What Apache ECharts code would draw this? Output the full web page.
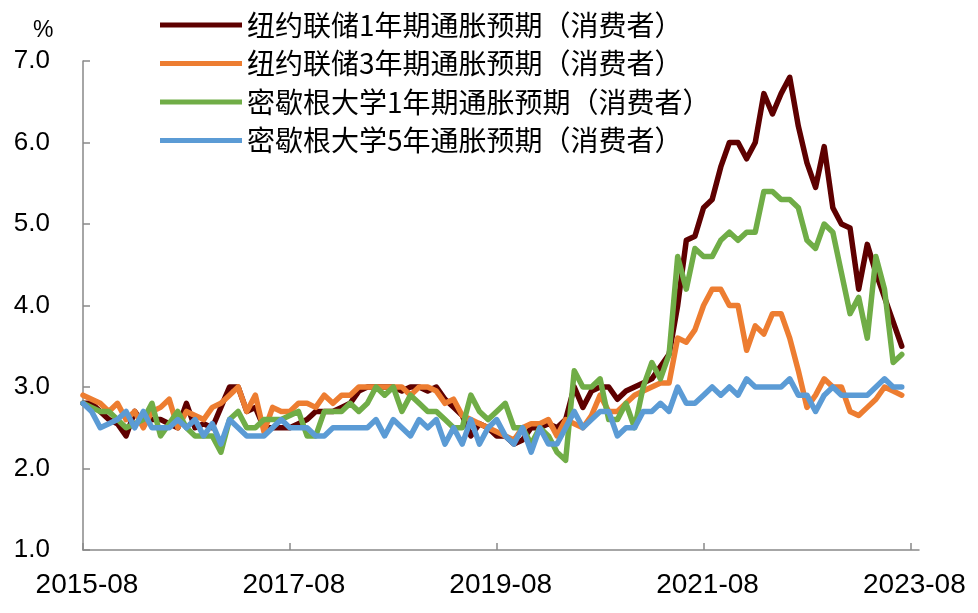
<!DOCTYPE html>
<html>
<head>
<meta charset="utf-8">
<script src="https://cdn.jsdelivr.net/npm/echarts@6/dist/echarts.min.js"></script>
<style>
html,body{margin:0;padding:0;background:#fff;}
#chart{width:978px;height:613px;}
</style>
</head>
<body>
<div id="chart"></div>
<script>
// Monthly categories 2015-08 .. 2023-09 (axis runs slightly past the last label)
const startYear = 2015, startMonth = 8, monthCount = 98;
const categories = [];
for (let k = 0; k < monthCount; k++) {
  const m = startMonth - 1 + k;
  const y = startYear + Math.floor(m / 12);
  const mm = (m % 12) + 1;
  categories.push(y + '-' + (mm < 10 ? '0' + mm : mm));
}
const xTickLabels = ['2015-08', '2017-08', '2019-08', '2021-08', '2023-08'];
const yTickValues = [1.0, 2.0, 3.0, 4.0, 5.0, 6.0, 7.0];

const seriesNames = [
  '纽约联储1年期通胀预期（消费者）',
  '纽约联储3年期通胀预期（消费者）',
  '密歇根大学1年期通胀预期（消费者）',
  '密歇根大学5年通胀预期（消费者）'
];

// 2015-08 .. 2023-07
const nyFed1y = [
  2.8, 2.8, 2.7, 2.6, 2.55, 2.4, 2.7, 2.55, 2.6, 2.6, 2.55, 2.5, 2.8, 2.5, 2.55, 2.5, 2.75,
  3.0, 3.0, 2.7, 2.75, 2.5, 2.5, 2.5, 2.5, 2.55, 2.6, 2.7, 2.7,
  2.7, 2.75, 2.8, 2.95, 3.0, 3.0, 3.0, 3.0, 2.95, 3.0, 3.0, 2.95,
  3.0, 2.85, 2.75, 2.65, 2.4, 2.55, 2.5, 2.4, 2.4, 2.3, 2.35, 2.5,
  2.5, 2.55, 2.5, 2.6, 3.0, 2.75, 2.95, 3.0, 3.0, 2.85, 2.95, 3.0,
  3.05, 3.1, 3.25, 3.4, 4.0, 4.8, 4.85, 5.2, 5.3, 5.7, 6.0, 6.0,
  5.8, 6.0, 6.6, 6.35, 6.6, 6.8, 6.2, 5.75, 5.45, 5.95, 5.2, 5.0,
  4.95, 4.2, 4.75, 4.4, 4.1, 3.8, 3.5
];
const nyFed3y = [
  2.9, 2.85, 2.8, 2.7, 2.8, 2.6, 2.7, 2.5, 2.7, 2.75, 2.85, 2.5, 2.7, 2.65, 2.6, 2.75, 2.8,
  2.9, 3.0, 2.7, 2.9, 2.45, 2.75, 2.7, 2.7, 2.8, 2.8, 2.75, 2.9,
  2.8, 2.9, 2.9, 3.0, 3.0, 3.0, 3.0, 3.0, 3.0, 2.9, 3.0, 3.0,
  2.95, 2.8, 2.85, 2.65, 2.6, 2.55, 2.5, 2.45, 2.4, 2.35, 2.5, 2.55,
  2.55, 2.6, 2.4, 2.6, 2.55, 2.5, 2.65, 2.9, 2.7, 2.7, 2.8, 2.9,
  2.95, 3.0, 3.05, 3.05, 3.6, 3.55, 3.7, 4.0, 4.2, 4.2, 4.0, 4.0,
  3.45, 3.75, 3.65, 3.9, 3.9, 3.6, 3.2, 2.75, 2.9, 3.1, 3.0, 3.0,
  2.7, 2.65, 2.75, 2.85, 3.0, 2.95, 2.9
];
const mich1y = [
  2.8, 2.75, 2.7, 2.7, 2.6, 2.5, 2.55, 2.6, 2.8, 2.4, 2.55, 2.7, 2.5, 2.4, 2.4, 2.4, 2.2,
  2.6, 2.7, 2.5, 2.5, 2.6, 2.6, 2.6, 2.65, 2.7, 2.4, 2.4, 2.7,
  2.7, 2.7, 2.8, 2.7, 2.8, 3.0, 2.9, 3.0, 2.7, 2.9, 2.8, 2.7,
  2.7, 2.6, 2.5, 2.5, 2.9, 2.7, 2.6, 2.7, 2.8, 2.5, 2.5, 2.3,
  2.5, 2.4, 2.2, 2.1, 3.2, 3.0, 3.0, 3.1, 2.6, 2.6, 2.8, 2.5,
  3.0, 3.3, 3.1, 3.4, 4.6, 4.2, 4.7, 4.6, 4.6, 4.8, 4.9, 4.8,
  4.9, 4.9, 5.4, 5.4, 5.3, 5.3, 5.2, 4.8, 4.7, 5.0, 4.9, 4.4,
  3.9, 4.1, 3.6, 4.6, 4.2, 3.3, 3.4
];
const mich5y = [
  2.8, 2.7, 2.5, 2.55, 2.6, 2.7, 2.5, 2.7, 2.5, 2.5, 2.5, 2.6, 2.5, 2.6, 2.4, 2.55, 2.3,
  2.6, 2.5, 2.4, 2.4, 2.4, 2.5, 2.6, 2.5, 2.5, 2.5, 2.4, 2.4,
  2.5, 2.5, 2.5, 2.5, 2.5, 2.6, 2.4, 2.6, 2.5, 2.4, 2.6, 2.5,
  2.6, 2.3, 2.5, 2.3, 2.6, 2.3, 2.5, 2.6, 2.4, 2.3, 2.5, 2.2,
  2.5, 2.3, 2.3, 2.5, 2.7, 2.5, 2.6, 2.7, 2.7, 2.4, 2.5, 2.5,
  2.7, 2.7, 2.8, 2.7, 3.0, 2.8, 2.8, 2.9, 3.0, 2.9, 3.0, 2.9,
  3.1, 3.0, 3.0, 3.0, 3.0, 3.1, 2.9, 2.9, 2.7, 2.9, 3.0, 2.9,
  2.9, 2.9, 2.9, 3.0, 3.1, 3.0, 3.0
];

const seriesData = [nyFed1y, nyFed3y, mich1y, mich5y];
const seriesColors = ['#5E0000', '#ED7D31', '#70AD47', '#5B9BD5'];

const axisGray = '#898989';
const numFont = 'Liberation Sans, Arial, sans-serif';
const cjkFont = 'Noto Sans CJK SC, sans-serif';

const isLabelled = (idx) => xTickLabels.indexOf(categories[idx]) >= 0;

const chart = echarts.init(document.getElementById('chart'), null, { renderer: 'canvas' });
chart.setOption({
  animation: false,
  backgroundColor: '#ffffff',
  grid: { left: 83, right: 59, top: 61, bottom: 63, containLabel: false },
  legend: {
    orient: 'vertical',
    left: 155,
    top: 6,
    itemWidth: 82,
    itemHeight: 5,
    itemGap: 10.5,
    icon: 'rect',
    textStyle: { fontFamily: cjkFont, fontSize: 28, color: '#000', lineHeight: 28, padding: [0, 0, 0, 0] },
    data: seriesNames
  },
  graphic: [{
    type: 'text', left: 33, top: 19,
    style: { text: '%', font: '23px Liberation Sans, Arial, sans-serif', fill: '#000' }
  }],
  xAxis: {
    type: 'category',
    boundaryGap: false,
    data: categories,
    axisLine: { show: true, lineStyle: { color: axisGray, width: 1.5 } },
    axisTick: { show: true, inside: true, length: 7, interval: (i) => isLabelled(i), lineStyle: { color: axisGray, width: 1.5 } },
    axisLabel: {
      interval: (i) => isLabelled(i),
      fontFamily: numFont, fontSize: 28, color: '#000', margin: 21,
      padding: [0, 0, 0, 8]
    },
    splitLine: { show: false }
  },
  yAxis: {
    type: 'value',
    min: yTickValues[0],
    max: yTickValues[yTickValues.length - 1],
    interval: 1,
    axisLine: { show: true, lineStyle: { color: axisGray, width: 1.5 } },
    axisTick: { show: true, inside: true, length: 7, lineStyle: { color: axisGray, width: 1.5 } },
    axisLabel: {
      formatter: (v) => v.toFixed(1),
      fontFamily: numFont, fontSize: 26, color: '#000', margin: 33
    },
    splitLine: { show: false }
  },
  series: seriesNames.map((name, k) => ({
    name: name,
    type: 'line',
    data: seriesData[k],
    showSymbol: false,
    symbol: 'none',
    color: seriesColors[k],
    lineStyle: { color: seriesColors[k], width: 5.5, join: 'round', cap: 'round' },
    z: 2 + k
  }))
});
</script>
</body>
</html>
